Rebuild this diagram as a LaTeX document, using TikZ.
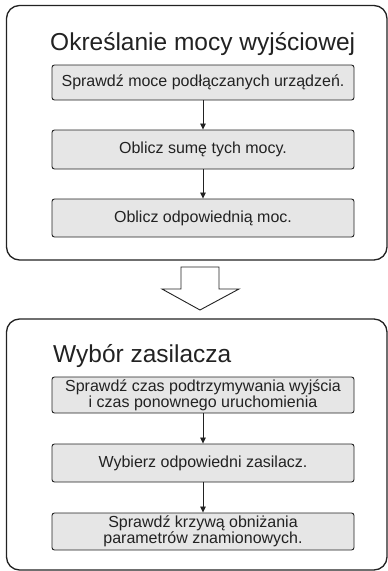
\documentclass[tikz,border=0pt]{standalone}
\usepackage{fontspec}
\setmainfont{Liberation Sans}
\usetikzlibrary{arrows.meta}
\definecolor{boxfill}{HTML}{E6E6E6}
\definecolor{ink}{HTML}{222222}
\tikzset{
  outerbox/.style={draw=ink, line width=1.3pt, rounded corners=13pt, fill=white},
  stepbox/.style={draw=ink, line width=0.9pt, rounded corners=2.5pt, fill=boxfill,
    minimum width=302pt, inner sep=0pt, align=center, text=ink,
    font=\fontsize{16}{14.5}\selectfont},
  titletext/.style={anchor=base west, inner sep=0pt, text=ink, font=\fontsize{24.5}{28}\selectfont},
  flow/.style={draw=ink, line width=0.8pt, -{Triangle[width=5.5pt,length=6pt]}},
  bigarrow/.style={draw=ink, line width=0.9pt, fill=white}
}
\begin{document}
\begin{tikzpicture}[x=1pt,y=-1pt]
\useasboundingbox (0,0) rectangle (388,571);
% outer frames
\draw[outerbox] (6.5,5.5) rectangle (387,260);
\draw[outerbox] (6.5,319) rectangle (387,570);
% titles
\node[titletext] (t1) at (50,50) {Określanie mocy wyjściowej};
\node[titletext] (t2) at (53,362) {Wybór zasilacza};
% steps, top
\node[stepbox, minimum height=35pt] (a1) at (203,82.5) {Sprawdź moce podłączanych urządzeń.};
\node[stepbox, minimum height=39pt] (a2) at (203,149.5) {Oblicz sumę tych mocy.};
\node[stepbox, minimum height=38pt] (a3) at (203,218) {Oblicz odpowiednią moc.};
\draw[flow] (a1.south) -- (a2.north);
\draw[flow] (a2.south) -- (a3.north);
% big hollow arrow
\draw[bigarrow] (181,267) -- (219,267) -- (219,289) -- (239,289) -- (200,310) -- (162,289) -- (181,289) -- cycle;
% steps, bottom
\node[stepbox, minimum height=36pt] (b1) at (203,395) {Sprawdź czas podtrzymywania wyjścia\\i czas ponownego uruchomienia};
\node[stepbox, minimum height=38pt] (b2) at (203,463) {Wybierz odpowiedni zasilacz.};
\node[stepbox, minimum height=37pt] (b3) at (203,531.5) {Sprawdź krzywą obniżania\\parametrów znamionowych.};
\draw[flow] (b1.south) -- (b2.north);
\draw[flow] (b2.south) -- (b3.north);
\end{tikzpicture}
\end{document}
